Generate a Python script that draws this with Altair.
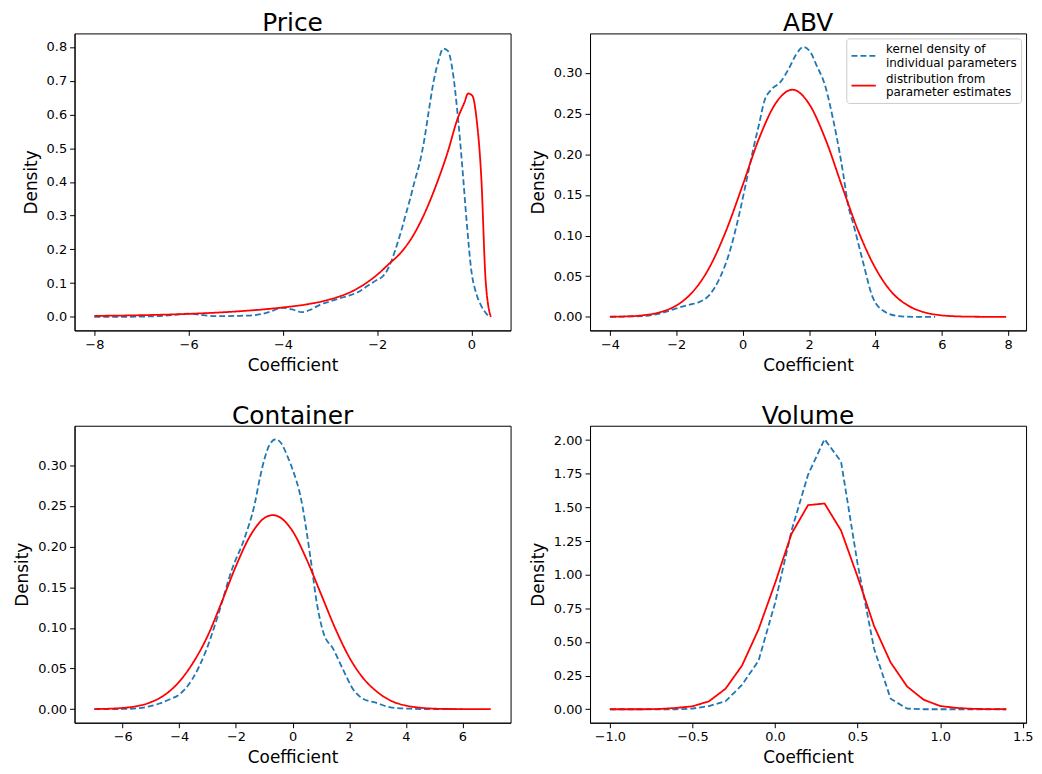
import altair as alt
import pandas as pd

# ---------------- data ----------------
price_kde_x = [-8.0, -7.5, -7.0, -6.7, -6.3, -6.0, -5.7, -5.4, -5.0, -4.6, -4.3, -4.0, -3.8, -3.6,
               -3.4, -3.2, -3.0, -2.8, -2.6, -2.4, -2.2, -2.0, -1.9, -1.8, -1.7, -1.6, -1.5, -1.4,
               -1.3, -1.2, -1.1, -1.0, -0.9, -0.8, -0.7, -0.6, -0.5, -0.4, -0.3, -0.2, -0.1, 0.0,
               0.1, 0.2, 0.35]
price_kde_y = [0.000, 0.000, 0.001, 0.002, 0.006, 0.010, 0.005, 0.002, 0.003, 0.005, 0.014, 0.027,
               0.022, 0.014, 0.022, 0.037, 0.046, 0.055, 0.063, 0.074, 0.092, 0.110, 0.118, 0.135,
               0.165, 0.205, 0.250, 0.300, 0.350, 0.405, 0.455, 0.525, 0.615, 0.700, 0.758, 0.795,
               0.788, 0.730, 0.610, 0.455, 0.280, 0.135, 0.070, 0.035, 0.004]
price_dist_x = [-8.0, -7.0, -6.0, -5.0, -4.0, -3.5, -3.0, -2.5, -2.0, -1.75, -1.5, -1.25, -1.0,
                -0.75, -0.5, -0.3, -0.15, -0.07, 0.02, 0.11, 0.21, 0.30, 0.41]
price_dist_y = [0.003, 0.005, 0.009, 0.016, 0.028, 0.037, 0.052, 0.078, 0.125, 0.157, 0.190,
                0.238, 0.305, 0.390, 0.490, 0.585, 0.635, 0.662, 0.655, 0.585, 0.410, 0.110, 0.000]

abv_kde_x = [-4.0, -3.5, -3.0, -2.5, -2.0, -1.6, -1.3, -1.0, -0.7, -0.4, -0.1, 0.2, 0.35, 0.5,
             0.65, 0.85, 1.14, 1.4, 1.6, 1.84, 2.05, 2.23, 2.48, 2.73, 2.83, 3.03, 3.18, 3.33,
             3.63, 3.93, 4.3, 4.7, 5.2, 5.8]
abv_kde_y = [0.000, 0.0005, 0.001, 0.004, 0.0105, 0.015, 0.0185, 0.027, 0.047, 0.079, 0.127,
             0.184, 0.212, 0.238, 0.265, 0.279, 0.289, 0.306, 0.322, 0.332, 0.325, 0.309, 0.285,
             0.242, 0.222, 0.176, 0.137, 0.115, 0.067, 0.023, 0.006, 0.001, 0.0, 0.0]
abv_dist_x = [-4.0, -3.5, -3.0, -2.5, -2.0, -1.5, -1.0, -0.5, 0.0, 0.5, 1.0, 1.5, 2.0, 2.5, 3.0,
              3.5, 4.0, 4.5, 5.0, 5.5, 6.0, 6.5, 7.0, 7.5, 7.94]
abv_dist_y = [0.0002, 0.0006, 0.002, 0.0057, 0.014, 0.031, 0.061, 0.106, 0.162, 0.220, 0.263,
              0.2794, 0.262, 0.218, 0.160, 0.104, 0.060, 0.030, 0.0136, 0.0054, 0.0019, 0.0006,
              0.0002, 0.0001, 0.0]

cont_kde_x = [-7.0, -6.0, -5.5, -5.0, -4.7, -4.35, -4.0, -3.54, -3.08, -2.61, -2.15, -1.69, -1.34,
              -1.15, -0.99, -0.8, -0.59, -0.4, -0.18, 0.0, 0.28, 0.63, 0.86, 1.09, 1.44, 1.78,
              2.13, 2.48, 2.94, 3.52, 4.3, 5.0, 6.0]
cont_kde_y = [0.0, 0.0003, 0.001, 0.004, 0.007, 0.012, 0.018, 0.037, 0.070, 0.118, 0.171, 0.211,
              0.252, 0.285, 0.308, 0.326, 0.332, 0.327, 0.311, 0.295, 0.262, 0.187, 0.130, 0.094,
              0.074, 0.049, 0.025, 0.013, 0.008, 0.002, 0.0005, 0.0, 0.0]
cont_dist_x = [-7.0, -6.5, -6.0, -5.5, -5.0, -4.5, -4.0, -3.5, -3.0, -2.5, -2.0, -1.5, -1.0, -0.7,
               -0.5, 0.0, 0.5, 1.0, 1.5, 2.0, 2.5, 3.0, 3.5, 4.0, 4.5, 5.0, 5.5, 6.0, 6.5, 7.0]
cont_dist_y = [0.0002, 0.0006, 0.0016, 0.0038, 0.0087, 0.018, 0.034, 0.058, 0.090, 0.132, 0.176,
               0.213, 0.235, 0.2387, 0.237, 0.219, 0.184, 0.142, 0.100, 0.064, 0.038, 0.021,
               0.010, 0.0045, 0.0019, 0.0007, 0.0003, 0.0001, 0.0, 0.0]

vol_x = [-1.0, -0.9, -0.8, -0.7, -0.6, -0.5, -0.4, -0.3, -0.2, -0.1, 0.0, 0.1, 0.2, 0.3, 0.4,
         0.5, 0.6, 0.7, 0.8, 0.9, 1.0, 1.1, 1.2, 1.3, 1.4]
vol_kde_y = [0.0, 0.0, 0.0, 0.0, 0.0, 0.005, 0.024, 0.059, 0.181, 0.360, 0.788, 1.327, 1.743,
             2.007, 1.840, 1.080, 0.450, 0.078, 0.005, 0.0, 0.0, 0.0, 0.0, 0.0, 0.0]
vol_dist_y = [0.0, 0.0, 0.0, 0.002, 0.010, 0.022, 0.059, 0.152, 0.324, 0.593, 0.936, 1.304,
              1.517, 1.529, 1.328, 0.985, 0.618, 0.348, 0.169, 0.071, 0.024, 0.010, 0.003,
              0.001, 0.0]

KDE = "kde"
DIST = "dist"
series_domain = [KDE, DIST]
series_colors = ["#1f77b4", "#ff0000"]
series_dashes = [[6, 3], [1, 0]]

FONT = "DejaVu Sans"
W, H = 439, 299


def frame(xs, ys, s):
    return pd.DataFrame({"x": xs, "y": ys, "series": s})


def panel(title, kx, ky, dx, dy, xdom, ydom, xticks, yticks, xfmt, yfmt, interp, show_legend):
    data = pd.concat([frame(kx, ky, KDE), frame(dx, dy, DIST)], ignore_index=True)
    if show_legend:
        leg = alt.Legend(
            title=None, orient="top-right", offset=5, fillColor="white",
            strokeColor="#cccccc", cornerRadius=3, padding=4,
            labelFont=FONT, labelFontSize=12, labelColor="black", labelLimit=300,
            labelBaseline="bottom",
            symbolType="stroke", symbolSize=600, symbolStrokeWidth=1.8, rowPadding=3,
            labelOffset=9,
            labelExpr="datum.value == 'kde' ? ['kernel density of', '\u00a0individual parameters']"
                      " : ['distribution from', '\u00a0parameter estimates']",
        )
    else:
        leg = None
    layers = []
    for s in series_domain:
        layers.append(
            alt.Chart(data).transform_filter(alt.datum.series == s)
            .mark_line(interpolate=interp, strokeWidth=1.8)
            .encode(
                x=alt.X("x:Q", title="Coefficient",
                        scale=alt.Scale(domain=xdom, nice=False, zero=False),
                        axis=alt.Axis(values=xticks, format=xfmt)),
                y=alt.Y("y:Q", title="Density",
                        scale=alt.Scale(domain=ydom, nice=False, zero=False),
                        axis=alt.Axis(values=yticks, format=yfmt)),
                color=alt.Color("series:N", scale=alt.Scale(domain=series_domain, range=series_colors),
                                legend=leg),
                strokeDash=alt.StrokeDash("series:N",
                                          scale=alt.Scale(domain=series_domain, range=series_dashes),
                                          legend=leg),
                order=alt.Order("x:Q"),
            )
        )
    return alt.layer(*layers).properties(width=W, height=H, title=alt.TitleParams(title))


p1 = panel("Price", price_kde_x, price_kde_y, price_dist_x, price_dist_y,
           [-8.42, 0.83], [-0.04, 0.84], [-8, -6, -4, -2, 0],
           [0.0, 0.1, 0.2, 0.3, 0.4, 0.5, 0.6, 0.7, 0.8], "d", ".1f", "monotone", False)
p2 = panel("ABV", abv_kde_x, abv_kde_y, abv_dist_x, abv_dist_y,
           [-4.6, 8.54], [-0.0166, 0.3486], [-4, -2, 0, 2, 4, 6, 8],
           [0.0, 0.05, 0.10, 0.15, 0.20, 0.25, 0.30], "d", ".2f", "monotone", True)
p3 = panel("Container", cont_kde_x, cont_kde_y, cont_dist_x, cont_dist_y,
           [-7.7, 7.7], [-0.0166, 0.3486], [-6, -4, -2, 0, 2, 4, 6],
           [0.0, 0.05, 0.10, 0.15, 0.20, 0.25, 0.30], "d", ".2f", "monotone", False)
p4 = panel("Volume", vol_x, vol_kde_y, vol_x, vol_dist_y,
           [-1.12, 1.52], [-0.1, 2.107], [-1.0, -0.5, 0.0, 0.5, 1.0, 1.5],
           [0.0, 0.25, 0.5, 0.75, 1.0, 1.25, 1.5, 1.75, 2.0], ".1f", ".2f", "linear", False)

chart = (
    alt.concat(p1, p2, p3, p4, columns=2, spacing={"row": 29, "column": 17})
    .resolve_scale(color="independent", strokeDash="independent")
    .properties(padding={"left": 5, "top": 0, "right": 0, "bottom": 0})
    .configure_view(stroke="black", strokeWidth=1)
    .configure_axis(
        grid=False, domainColor="black", tickColor="black", labelColor="black",
        titleColor="black", labelFont=FONT, titleFont=FONT, labelFontSize=13,
        titleFontSize=17, titleFontWeight="normal", tickSize=5, labelPadding=3,
        titlePadding=6,
    )
    .configure_title(font=FONT, fontSize=25, fontWeight="normal", color="black",
                     anchor="middle", offset=-3)
)

chart.save("out.html", embed_options={"renderer": "svg", "actions": False})
